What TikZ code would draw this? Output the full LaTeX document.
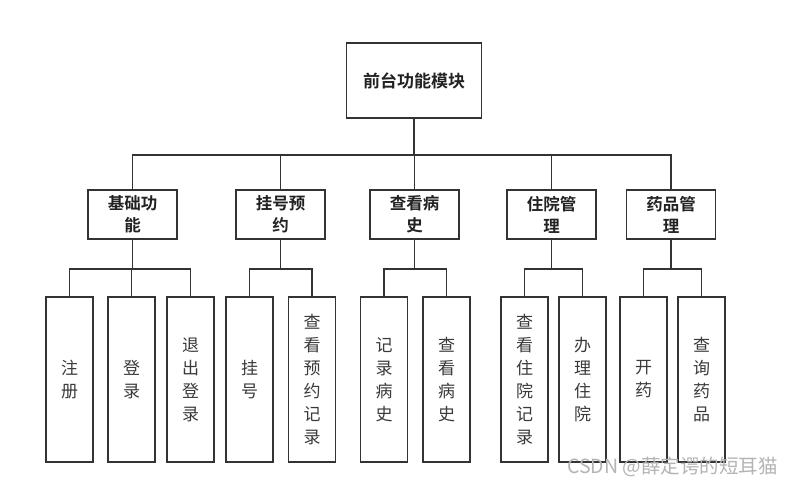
\documentclass[tikz,border=0pt]{standalone}
\usepackage{fontspec}
\setmainfont{Noto Sans CJK SC}[BoldFont={Noto Sans CJK SC Bold}]
\definecolor{lc}{HTML}{333333}
\definecolor{hc}{HTML}{222222}
\definecolor{tc}{HTML}{3A3A3A}
\definecolor{wc}{HTML}{B4B4B4}
\begin{document}
\begin{tikzpicture}[x=1pt,y=-1pt,
  box/.style={draw=lc, line width=1.6pt, fill=white, inner sep=0pt, align=center},
  topbox/.style={box, minimum width=135pt, minimum height=75pt, text=hc, font=\bfseries\fontsize{17}{22}\selectfont},
  midbox/.style={box, minimum width=89pt, minimum height=49pt, text=hc, font=\bfseries\fontsize{16.5}{22}\selectfont},
  leafbox/.style={box, minimum width=47pt, minimum height=165pt, text=tc, font=\fontsize{17}{23}\selectfont},
  link/.style={draw=lc, line width=1.6pt}]
\useasboundingbox[fill=white] (0,0) rectangle (794,487);

\node[topbox] (root) at (414,80.5) {前台功能模块};

\node[midbox] (m1) at (132.5,214.5) {基础功\\能};
\node[midbox] (m2) at (280.5,214.5) {挂号预\\约};
\node[midbox] (m3) at (414.5,214.5) {查看病\\史};
\node[midbox] (m4) at (551.5,214.5) {住院管\\理};
\node[midbox] (m5) at (671,214.5) {药品管\\理};

\node[leafbox] (l1) at (69.5,379.5) {注\\册};
\node[leafbox] (l2) at (131.5,379.5) {登\\录};
\node[leafbox] (l3) at (190.5,379.5) {退\\出\\登\\录};
\node[leafbox] (l4) at (249.5,379.5) {挂\\号};
\node[leafbox] (l5) at (312,379.5) {查\\看\\预\\约\\记\\录};
\node[leafbox] (l6) at (384,379.5) {记\\录\\病\\史};
\node[leafbox] (l7) at (446.5,379.5) {查\\看\\病\\史};
\node[leafbox] (l8) at (524.5,379.5) {查\\看\\住\\院\\记\\录};
\node[leafbox] (l9) at (582.5,379.5) {办\\理\\住\\院};
\node[leafbox] (l10) at (643.5,379.5) {开\\药};
\node[leafbox] (l11) at (701.5,379.5) {查\\询\\药\\品};

\foreach \c in {m1,m2,m3,m4,m5}
  \draw[link] (root.south) -- ++(0,36) -| (\c.north);
\foreach \c in {l1,l2,l3} \draw[link] (m1.south) -- ++(0,29) -| (\c.north);
\foreach \c in {l4,l5} \draw[link] (m2.south) -- ++(0,29) -| (\c.north);
\foreach \c in {l6,l7} \draw[link] (m3.south) -- ++(0,29) -| (\c.north);
\foreach \c in {l8,l9} \draw[link] (m4.south) -- ++(0,29) -| (\c.north);
\foreach \c in {l10,l11} \draw[link] (m5.south) -- ++(0,29) -| (\c.north);

\node[anchor=west, inner sep=0pt, text=wc, font=\fontsize{19.5}{22}\selectfont] (wm) at (567,467) {CSDN @薛定谔的短耳猫};
\end{tikzpicture}
\end{document}
